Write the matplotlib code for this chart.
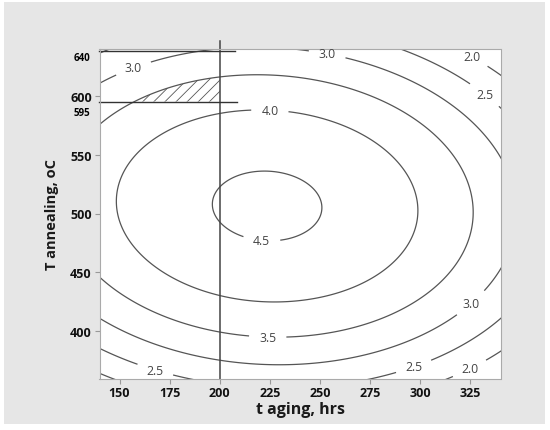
import numpy as np
import matplotlib
matplotlib.use("Agg")
import matplotlib.pyplot as plt
from matplotlib.patches import Rectangle

Z_MAX = 4.576      # peak response
X_PEAK = 223.6     # t aging at peak, hrs
Y_PEAK = 506.4     # T annealing at peak, oC
X_SCALE = 70.06    # hrs
Y_SCALE = 75.8     # oC
SHEAR = 0.0526     # ridge tilt, oC per hr

levels = [2.0, 2.5, 3.0, 3.5, 4.0, 4.5]
label_spots = [
    (155.0, 631.1), (253.8, 637.0), (325.6, 632.8), (331.6, 599.7),
    (225.0, 588.3), (220.9, 477.7), (223.9, 395.5), (168.0, 368.4),
    (296.7, 370.1), (325.1, 424.3), (324.6, 368.4),
]

x_ticks = [150, 175, 200, 225, 250, 275, 300, 325]
y_ticks = [400, 450, 500, 550, 600]
x_lim = (140, 340)
y_lim = (360, 640)

# constraint lines
t_aging_max = 200
T_low = 595
T_high = 638
T_line_top = 646
line_end = [208.4, 207.4]

GREY = "#555555"


def response(x, y):
    dx = x - X_PEAK
    v = (y - Y_PEAK) + SHEAR * dx
    return Z_MAX - 0.5 * (dx / X_SCALE) ** 2 - 0.5 * (v / Y_SCALE) ** 2


def upper_branch(x, level):
    dx = x - X_PEAK
    rest = 2 * (Z_MAX - level - 0.5 * (dx / X_SCALE) ** 2)
    return Y_PEAK - SHEAR * dx + Y_SCALE * np.sqrt(np.clip(rest, 0, None))


plt.rcParams["font.family"] = ["Open Sans", "DejaVu Sans"]
plt.rcParams["hatch.linewidth"] = 0.6

fig = plt.figure(figsize=(5.5, 4.31), dpi=100)
fig.patches.append(Rectangle((4 / 550, 1 - 425 / 431), 541 / 550, 422 / 431,
                             transform=fig.transFigure, facecolor="#e6e6e6",
                             edgecolor="none", zorder=-1))
ax = fig.add_axes([99.5 / 550, 1 - 379.5 / 431, 401 / 550, 330 / 431])

xs = np.linspace(120, 360, 481)
ys = np.linspace(340, 660, 641)
X, Y = np.meshgrid(xs, ys)
Z = response(X, Y)

cs = ax.contour(X, Y, Z, levels=levels, colors=GREY, linewidths=0.9)
labels = ax.clabel(cs, fmt="%.1f", fontsize=8.8, inline=True, inline_spacing=7,
                   manual=label_spots, colors="#444444")
for t in labels:
    t.set_rotation(0)

# hatched feasible region
xh = np.linspace(150, t_aging_max, 400)
yh = upper_branch(xh, 3.5)
ax.fill_between(xh, T_low, yh, where=yh > T_low, interpolate=True,
                facecolor="none", edgecolor=GREY, hatch="///", linewidth=0)

ax.plot([t_aging_max, t_aging_max], [y_lim[0], T_line_top], color="#444444",
        lw=1.1, clip_on=False)
ax.plot([x_lim[0], line_end[0]], [T_low, T_low], color="#333333", lw=1.0, clip_on=False)
ax.plot([x_lim[0], line_end[1]], [T_high, T_high], color="#333333", lw=1.0, clip_on=False)

ax.set_xlim(*x_lim)
ax.set_ylim(*y_lim)
ax.set_xticks(x_ticks)
ax.set_yticks(y_ticks)
ax.tick_params(length=3.5, width=0.8, color="#999999", pad=2,
               labelsize=9, labelcolor="#111111")
for lab in ax.get_xticklabels() + ax.get_yticklabels():
    lab.set_fontweight("bold")
for sp in ax.spines.values():
    sp.set_color("#aaaaaa")
    sp.set_linewidth(0.8)

ax.text(-0.024, T_high - 5.5, "640", transform=ax.get_yaxis_transform(),
        ha="right", va="center", fontsize=7, fontweight="bold", color="black")
ax.text(-0.024, T_low - 9, "595", transform=ax.get_yaxis_transform(),
        ha="right", va="center", fontsize=7, fontweight="bold", color="black")

ax.set_xlabel("t aging, hrs", fontsize=11.5, fontweight="bold", color="#1a1a1a")
ax.set_ylabel("T annealing, oC", fontsize=10.5, fontweight="bold", color="#1a1a1a")
ax.xaxis.label.set_va("center")
ax.yaxis.label.set_va("center")
ax.xaxis.set_label_coords(0.5, -0.092)
ax.yaxis.set_label_coords(-0.118, 0.5)

fig.savefig("out.png", dpi=100, facecolor="white")
